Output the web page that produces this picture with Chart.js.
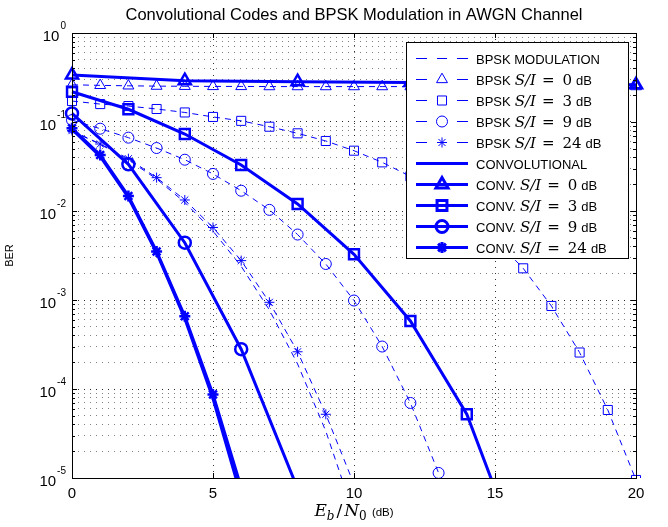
<!DOCTYPE html>
<html>
<head>
<meta charset="utf-8">
<script src="https://cdn.jsdelivr.net/npm/chart.js"></script>
<style>
  html, body { margin: 0; padding: 0; background: #fff; }
  #wrap { width: 668px; height: 527px; }
</style>
</head>
<body>
<div id="wrap"><canvas id="ber-chart" width="668" height="527"></canvas></div>
<script>
// Eb/N0 points (dB) for every curve
var xBpskTheory = [0, 1, 2, 3, 4, 5, 6, 7, 8, 9, 10];
var xBpskSI0 = [0, 1, 2, 3, 4, 5, 6, 7, 8, 9, 10, 11, 12, 13, 14, 15, 16, 17, 18, 19, 20];
var xBpskSI3 = [0, 1, 2, 3, 4, 5, 6, 7, 8, 9, 10, 11, 12, 13, 14, 15, 16, 17, 18, 19, 20];
var xBpskSI9 = [0, 1, 2, 3, 4, 5, 6, 7, 8, 9, 10, 11, 12, 13];
var xBpskSI24 = [0, 1, 2, 3, 4, 5, 6, 7, 8, 9, 10];
var xConvTheory = [0, 1, 2, 3, 4, 5, 6];
var xConvSI0 = [0, 4, 8, 12, 16, 20];
var xConvSI3 = [0, 2, 4, 6, 8, 10, 12, 14, 16];
var xConvSI9 = [0, 2, 4, 6, 8];
var xConvSI24 = [0, 1, 2, 3, 4, 5, 6];

// BER values
var bpskTheory = [0.0786, 0.0563, 0.0375, 0.0229, 0.0125, 0.00595, 0.00239, 0.000773, 0.000191, 0.0000336, 0.00000387];
var bpskSI0 = [0.262, 0.258, 0.255, 0.253, 0.252, 0.251, 0.251, 0.250, 0.250, 0.250, 0.250, 0.250, 0.250, 0.250, 0.250, 0.250, 0.250, 0.250, 0.250, 0.250, 0.250];
var bpskSI3 = [0.172, 0.159, 0.151, 0.140, 0.128, 0.114, 0.103, 0.0885, 0.0746, 0.0612, 0.0476, 0.0352, 0.0245, 0.0158, 0.0092, 0.0048, 0.00227, 0.000857, 0.000257, 0.0000581, 0.0000095];
var bpskSI9 = [0.105, 0.0841, 0.0667, 0.0510, 0.0377, 0.0261, 0.0169, 0.0103, 0.00544, 0.00254, 0.000987, 0.000300, 0.0000697, 0.0000114];
var bpskSI24 = [0.080, 0.0566, 0.0387, 0.0237, 0.0133, 0.00653, 0.00277, 0.000942, 0.000262, 0.000052, 0.0000085];
var convTheory = [0.083, 0.041, 0.0142, 0.0034, 0.00062, 0.000078, 0.0000062];
var convSI0 = [0.337, 0.291, 0.284, 0.278, 0.270, 0.262];
var convSI3 = [0.219, 0.139, 0.0733, 0.0329, 0.0120, 0.00326, 0.000581, 0.000052, 0.0000011];
var convSI9 = [0.125, 0.0335, 0.0044, 0.00028, 0.0000076];
var convSI24 = [0.085, 0.0426, 0.01475, 0.00351, 0.000656, 0.000087, 0.0000078];

// axis ticks
var xTicks = [0, 5, 10, 15, 20];
var yDecades = [0, -1, -2, -3, -4, -5];
var siLevels = ["0", "3", "9", "24"];

var BLUE = "#0000ff";

function pts(xs, ys) {
  return xs.map(function(x, i) { return { x: x, y: ys[i] }; });
}

// thin dashed series with hollow markers
function dashed(label, xs, ys, marker, r) {
  return {
    label: label,
    data: pts(xs, ys),
    borderColor: BLUE,
    borderWidth: 1,
    borderDash: [6, 5],
    pointStyle: marker || false,
    pointRadius: marker ? r : 0,
    pointBorderWidth: 1,
    pointBorderColor: BLUE,
    pointBackgroundColor: "rgba(0,0,0,0)",
    clip: { left: 10, right: 10, top: 10, bottom: 0 }
  };
}

// thick solid series
function solid(label, xs, ys, marker, r) {
  return {
    label: label,
    data: pts(xs, ys),
    borderColor: BLUE,
    borderWidth: 3,
    pointStyle: marker || false,
    pointRadius: marker ? r : 0,
    pointBorderWidth: 2.5,
    pointBorderColor: BLUE,
    pointBackgroundColor: "rgba(0,0,0,0)",
    clip: { left: 10, right: 10, top: 10, bottom: 0 }
  };
}

var yGrid = [];
for (var e = -5; e < 0; e++) {
  for (var m = 1; m < 10; m++) yGrid.push(Number((m * Math.pow(10, e)).toPrecision(3)));
}
yGrid.push(1);

function isDecade(v) {
  var l = Math.log10(v);
  return Math.abs(l - Math.round(l)) < 1e-6;
}

var legendRows = [
  { pre: "BPSK MODULATION", si: null, dash: true, marker: null, r: 0 },
  { pre: "BPSK", si: siLevels[0], dash: true, marker: "triangle", r: 6.3 },
  { pre: "BPSK", si: siLevels[1], dash: true, marker: "rect", r: 6.4 },
  { pre: "BPSK", si: siLevels[2], dash: true, marker: "circle", r: 5.5 },
  { pre: "BPSK", si: siLevels[3], dash: true, marker: "star", r: 5 },
  { pre: "CONVOLUTIONAL", si: null, dash: false, marker: null, r: 0 },
  { pre: "CONV.", si: siLevels[0], dash: false, marker: "triangle", r: 7 },
  { pre: "CONV.", si: siLevels[1], dash: false, marker: "rect", r: 7 },
  { pre: "CONV.", si: siLevels[2], dash: false, marker: "circle", r: 6 },
  { pre: "CONV.", si: siLevels[3], dash: false, marker: "star", r: 5.5 }
];

var decorations = {
  id: "decorations",
  afterDraw: function(chart) {
    var ctx = chart.ctx;
    var a = chart.chartArea;
    var xs = chart.scales.x, ys = chart.scales.y;
    ctx.save();

    // axes box
    ctx.strokeStyle = "#000";
    ctx.lineWidth = 1;
    ctx.setLineDash([]);
    ctx.strokeRect(Math.round(a.left) + 0.5, Math.round(a.top) + 0.5, Math.round(a.right - a.left), Math.round(a.bottom - a.top));

    // inward tick marks
    ctx.beginPath();
    xTicks.forEach(function(t) {
      var px = Math.round(xs.getPixelForValue(t)) + 0.5;
      ctx.moveTo(px, a.bottom); ctx.lineTo(px, a.bottom - 5);
      ctx.moveTo(px, a.top); ctx.lineTo(px, a.top + 5);
    });
    yGrid.forEach(function(v) {
      var py = Math.round(ys.getPixelForValue(v)) + 0.5;
      var len = isDecade(v) ? 5 : 3;
      ctx.moveTo(a.left, py); ctx.lineTo(a.left + len, py);
      ctx.moveTo(a.right, py); ctx.lineTo(a.right - len, py);
    });
    ctx.stroke();

    // tick labels
    ctx.fillStyle = "#000";
    ctx.textBaseline = "alphabetic";
    ctx.font = "15px 'Liberation Sans', Arial, sans-serif";
    ctx.textAlign = "center";
    xTicks.forEach(function(t) {
      ctx.fillText(String(t), xs.getPixelForValue(t), a.bottom + 20);
    });
    yDecades.forEach(function(k) {
      var py = ys.getPixelForValue(Math.pow(10, k));
      var sup = k === 0 ? "0" : "-" + String(-k);
      ctx.font = "10px 'Liberation Sans', Arial, sans-serif";
      var sw = ctx.measureText(sup).width;
      var right = a.left - 6;
      ctx.textAlign = "left";
      ctx.fillText(sup, right - sw, py - 4);
      ctx.font = "15px 'Liberation Sans', Arial, sans-serif";
      ctx.textAlign = "right";
      ctx.fillText("10", right - sw - 1, py + 8);
    });

    // title
    ctx.textAlign = "center";
    ctx.font = "16.5px 'Liberation Sans', Arial, sans-serif";
    ctx.fillText("Convolutional Codes and BPSK Modulation in AWGN Channel", (a.left + a.right) / 2, 20);

    // y axis title
    ctx.save();
    ctx.translate(13, (a.top + a.bottom) / 2);
    ctx.rotate(-Math.PI / 2);
    ctx.font = "11px 'Liberation Sans', Arial, sans-serif";
    ctx.fillText("BER", 0, 0);
    ctx.restore();

    // x axis title: E_b / N_0 (dB)
    var parts = [
      { t: "E", f: "italic 17px 'DejaVu Serif', serif", dy: 0 },
      { t: "b", f: "italic 12px 'DejaVu Serif', serif", dy: 4 },
      { t: "/", f: "17px 'DejaVu Serif', serif", dy: 0, pad: 2 },
      { t: "N", f: "italic 17px 'DejaVu Serif', serif", dy: 0, pad: 2 },
      { t: "0", f: "12px 'DejaVu Serif', serif", dy: 4 },
      { t: " (dB)", f: "11.5px 'Liberation Sans', Arial, sans-serif", dy: 0, pad: 2 }
    ];
    var total = 0;
    parts.forEach(function(p) { ctx.font = p.f; p.w = ctx.measureText(p.t).width; total += p.w + (p.pad || 0); });
    var cx = (a.left + a.right) / 2 - total / 2;
    ctx.textAlign = "left";
    parts.forEach(function(p) {
      cx += p.pad || 0;
      ctx.font = p.f;
      ctx.fillText(p.t, cx, 516 + p.dy);
      cx += p.w;
    });

    // legend box
    var lx = a.right - 230, ly = a.top + 9, lw = 222, lh = 216;
    ctx.fillStyle = "#fff";
    ctx.fillRect(lx, ly, lw, lh);
    ctx.strokeStyle = "#000";
    ctx.lineWidth = 1;
    ctx.strokeRect(Math.round(lx) + 0.5, Math.round(ly) + 0.5, lw, lh);
    legendRows.forEach(function(row, i) {
      var ry = Math.round(ly + 15.5 + i * 21.1) + 0.5;
      var x0 = lx + 10, x1 = lx + 62, xm = lx + 36;
      ctx.strokeStyle = BLUE;
      ctx.fillStyle = "rgba(0,0,0,0)";
      ctx.beginPath();
      if (row.dash) {
        ctx.lineWidth = 1;
        if (row.marker) {
          ctx.moveTo(x0, ry); ctx.lineTo(x0 + 11, ry);
          ctx.moveTo(x1 - 11, ry); ctx.lineTo(x1, ry);
        } else {
          ctx.moveTo(x0, ry); ctx.lineTo(x0 + 11, ry);
          ctx.moveTo(xm - 5, ry); ctx.lineTo(xm + 5, ry);
          ctx.moveTo(x1 - 11, ry); ctx.lineTo(x1, ry);
        }
      } else {
        ctx.lineWidth = 3;
        ctx.moveTo(x0, ry); ctx.lineTo(x1, ry);
      }
      ctx.stroke();
      if (row.marker) {
        Chart.helpers.drawPoint(ctx, {
          pointStyle: row.marker, radius: row.r, rotation: 0,
          borderWidth: row.dash ? 1 : 2.5
        }, xm, ry);
      }
      // label text
      ctx.fillStyle = "#000";
      ctx.textAlign = "left";
      var tx = lx + 70, ty = ry + 5;
      ctx.font = "13px 'Liberation Sans', Arial, sans-serif";
      ctx.fillText(row.pre, tx, ty);
      if (row.si !== null) {
        tx += ctx.measureText(row.pre).width + 4;
        ctx.font = "italic 15px 'DejaVu Serif', serif";
        ctx.fillText("S/I", tx, ty);
        tx += ctx.measureText("S/I").width + 6;
        ctx.font = "15px 'DejaVu Serif', serif";
        ctx.fillText("=", tx, ty);
        tx += ctx.measureText("=").width + 8;
        ctx.fillText(row.si, tx, ty);
        tx += ctx.measureText(row.si).width + 4;
        ctx.font = "13px 'Liberation Sans', Arial, sans-serif";
        ctx.fillText("dB", tx, ty);
      }
    });
    ctx.restore();
  }
};

var chart = new Chart(document.getElementById("ber-chart").getContext("2d"), {
  type: "line",
  data: {
    datasets: [
      dashed("BPSK MODULATION", xBpskTheory, bpskTheory, null, 0),
      dashed("BPSK S/I = 0 dB", xBpskSI0, bpskSI0, "triangle", 6.3),
      dashed("BPSK S/I = 3 dB", xBpskSI3, bpskSI3, "rect", 6.4),
      dashed("BPSK S/I = 9 dB", xBpskSI9, bpskSI9, "circle", 5.5),
      dashed("BPSK S/I = 24 dB", xBpskSI24, bpskSI24, "star", 5),
      solid("CONVOLUTIONAL", xConvTheory, convTheory, null, 0),
      solid("CONV. S/I = 0 dB", xConvSI0, convSI0, "triangle", 7),
      solid("CONV. S/I = 3 dB", xConvSI3, convSI3, "rect", 7),
      solid("CONV. S/I = 9 dB", xConvSI9, convSI9, "circle", 6),
      solid("CONV. S/I = 24 dB", xConvSI24, convSI24, "star", 5.5)
    ]
  },
  options: {
    responsive: false,
    animation: false,
    events: [],
    devicePixelRatio: 1,
    layout: { padding: { left: 72, right: 32, top: 33, bottom: 49 } },
    plugins: { legend: { display: false }, tooltip: { enabled: false } },
    scales: {
      x: {
        type: "linear",
        min: 0,
        max: 20,
        ticks: { display: false, stepSize: 5 },
        grid: { color: "rgba(0,0,0,0.8)", lineWidth: 1, drawTicks: false },
        border: { display: false, dash: [1, 5] }
      },
      y: {
        type: "logarithmic",
        min: 0.00001,
        max: 1,
        afterBuildTicks: function(scale) {
          scale.ticks = yGrid.map(function(v) { return { value: v }; });
        },
        ticks: { display: false },
        grid: {
          color: function(c) { return c.tick && isDecade(c.tick.value) ? "rgba(0,0,0,0.85)" : "rgba(0,0,0,0.5)"; },
          lineWidth: 1,
          drawTicks: false
        },
        border: { display: false, dash: [1, 5] }
      }
    }
  },
  plugins: [decorations]
});
</script>
</body>
</html>
